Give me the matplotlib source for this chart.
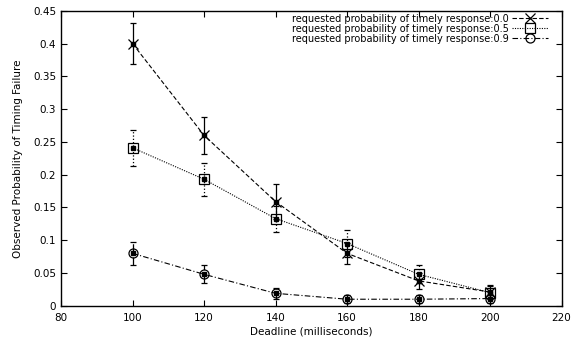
import numpy as np
import matplotlib.pyplot as plt

plt.rcParams['font.family'] = ['DejaVu Sans']

# Deadline (ms) e probabilidade observada de falha temporal
deadlines = [100, 120, 140, 160, 180, 200]
prob_00 = [0.40, 0.26, 0.159, 0.080, 0.038, 0.021]
err_00 = [0.031, 0.028, 0.027, 0.016, 0.012, 0.010]
prob_05 = [0.241, 0.193, 0.133, 0.095, 0.048, 0.020]
err_05 = [0.027, 0.025, 0.020, 0.020, 0.014, 0.010]
prob_09 = [0.080, 0.048, 0.019, 0.010, 0.010, 0.011]
err_09 = [0.018, 0.014, 0.008, 0.006, 0.006, 0.006]

labels = ["requested probability of timely response:0.0",
          "requested probability of timely response:0.5",
          "requested probability of timely response:0.9"]

fig = plt.figure(figsize=(5.76, 3.39), dpi=100)
ax = fig.add_axes([0.106, 0.098, 0.869, 0.870])

series = [
    (prob_00, err_00, 'x', (0, (4, 2)), '-', 7.5),
    (prob_05, err_05, 's', (0, (1, 1.2)), ':', 6.5),
    (prob_09, err_09, 'o', (0, (5, 2, 1, 2)), '-.', 6.5),
]

for (p, e, mk, ls, els, ms), lab in zip(series, labels):
    eb = ax.errorbar(deadlines, p, yerr=e, fmt='none', ecolor='black',
                     elinewidth=0.9, capsize=2.5, capthick=0.9)
    eb[2][0].set_linestyle(els)
    ax.plot(deadlines, p, color='black', linestyle=ls, linewidth=0.8,
            marker=mk, markersize=ms, markerfacecolor='none',
            markeredgecolor='black', markeredgewidth=0.9, label=lab)
    # ponto central preenchido
    ax.plot(deadlines, p, linestyle='none', marker='s', markersize=2.5,
            color='black')

ax.set_xlim(80, 220)
ax.set_ylim(0, 0.45)
ax.set_xticks(np.arange(80, 221, 20))
ax.set_yticks(np.arange(0, 0.451, 0.05))
ax.set_yticklabels(['0', '0.05', '0.1', '0.15', '0.2', '0.25', '0.3',
                    '0.35', '0.4', '0.45'])
ax.tick_params(direction='in', top=True, right=True, labelsize=7.5,
               length=4, width=0.8)
ax.tick_params(axis='x', pad=5)
for s in ax.spines.values():
    s.set_linewidth(1.0)

ax.set_xlabel("Deadline (milliseconds)", fontsize=7.5, labelpad=3)
ax.set_ylabel("Observed Probability of Timing Failure", fontsize=7.5, labelpad=7)

ax.legend(loc='upper right', bbox_to_anchor=(0.973, 0.99), frameon=False,
          fontsize=7, markerfirst=False, handlelength=3.7, labelspacing=0.0,
          borderaxespad=0, borderpad=0, handletextpad=0.3)

fig.savefig("out.png", dpi=100)
